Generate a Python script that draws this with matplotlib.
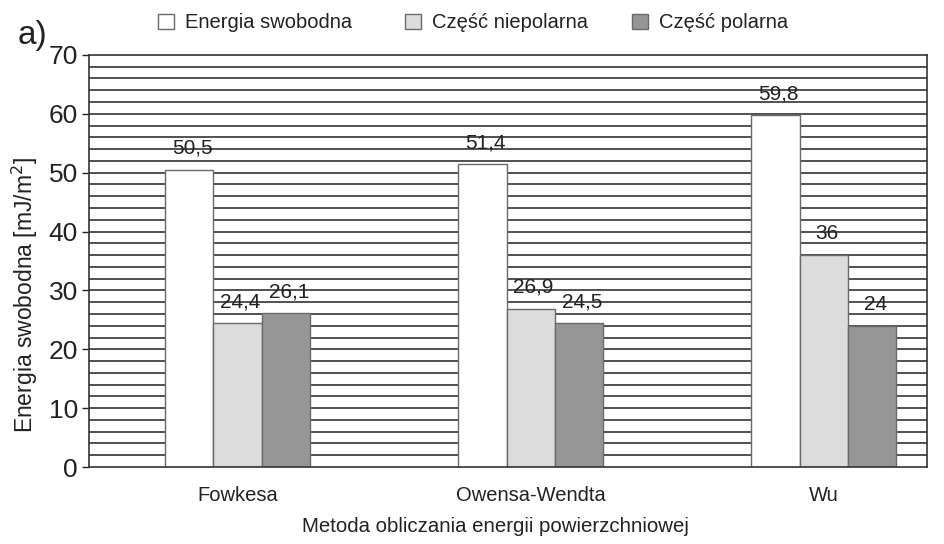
import numpy as np
import matplotlib.pyplot as plt

plt.rcParams['font.family'] = ['Liberation Sans', 'DejaVu Sans']

# data
methods = ['Fowkesa', 'Owensa-Wendta', 'Wu']
series = ['Energia swobodna', 'Część niepolarna', 'Część polarna']
total = [50.5, 51.4, 59.8]
nonpolar = [24.4, 26.9, 36]
polar = [26.1, 24.5, 24]
value_labels = [['50,5', '51,4', '59,8'], ['24,4', '26,9', '36'], ['26,1', '24,5', '24']]
colors = ['#ffffff', '#dcdcdc', '#969696']

fig = plt.figure(figsize=(9.44, 5.44), dpi=100)
ax = fig.add_axes([0.0943, 0.1415, 0.888, 0.7575])

x = np.arange(len(methods))
w = 0.165
ink = '#222222'

# horizontal grid every 2 units, behind the bars
for yv in np.arange(2, 70, 2):
    ax.axhline(yv, color='#333333', lw=1.2, zorder=0)

bars = []
for i, vals in enumerate([total, nonpolar, polar]):
    pos = x + (i - 1) * w
    b = ax.bar(pos, vals, width=w, color=colors[i], edgecolor='#6a6a6a',
               linewidth=1.0, zorder=2, label=series[i])
    bars.append(b)
    for p, v, t in zip(pos, vals, value_labels[i]):
        ax.text(p + 0.01, v + 2.0, t, ha='center', va='bottom', fontsize=15, color=ink)

ax.set_xlim(-0.507, 2.353)
ax.set_ylim(0, 70)
ax.set_yticks(range(0, 71, 10))
ax.tick_params(axis='y', labelsize=19, colors=ink, length=5, width=1.0, pad=3)
ax.set_xticks(x)
ax.set_xticklabels(methods, fontsize=14.5, color=ink)
ax.tick_params(axis='x', length=0, pad=14)

for s in ax.spines.values():
    s.set_color('#333333')
    s.set_linewidth(1.2)

ax.set_ylabel('Energia swobodna [mJ/m$^2$]', fontsize=16.5, color=ink)
ax.yaxis.set_label_coords(-0.059, 0.417)
ax.set_xlabel('Metoda obliczania energii powierzchniowej', fontsize=14.7, color=ink)
ax.xaxis.set_label_coords(0.4845, -0.122)

fig.text(0.019, 0.935, 'a)', fontsize=24, color=ink, va='center')

# legend entries placed one by one, like in the original
leg_x = [0.167, 0.429, 0.669]
for i in range(3):
    leg = fig.legend([bars[i]], [series[i]], loc='center left',
                     bbox_to_anchor=(leg_x[i], 0.958), frameon=False,
                     fontsize=14.5, handlelength=0.8, handleheight=0.8,
                     handletextpad=0.55, borderaxespad=0, borderpad=0)
    for t in leg.get_texts():
        t.set_color(ink)

fig.savefig('out.png', dpi=100)
